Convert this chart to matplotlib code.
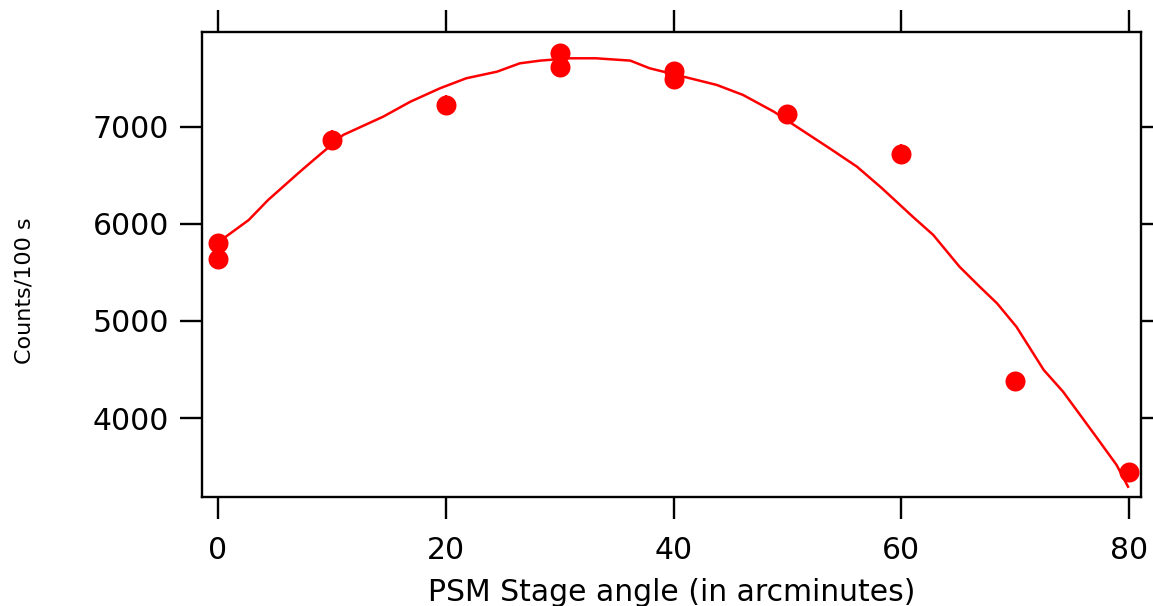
import matplotlib
matplotlib.use("Agg")
import matplotlib.pyplot as plt

# Measured data points
angle = [0, 0, 10, 20, 30, 30, 40, 40, 50, 60, 70, 80]
counts = [5801, 5636, 6866, 7227, 7760, 7616, 7574, 7492, 7131, 6721, 4385, 3440]
errors = [100, 100, 100, 100, 100, 100, 100, 100, 100, 100, 0, 0]

# Fit curve
fit_x = [0.0, 1.5, 2.7, 4.4, 7.2, 8.4, 11.0, 14.5, 16.9, 19.5, 21.8, 24.5,
         26.5, 28.3, 30.9, 33.2, 36.2, 37.9, 41.1, 43.8, 46.1, 48.8, 50.8,
         53.7, 56.1, 58.3, 61.0, 62.8, 65.1, 66.9, 68.4, 70.1, 72.5, 74.2,
         77.1, 78.9, 79.9]
fit_y = [5810, 5938, 6041, 6247, 6539, 6660, 6918, 7106, 7261, 7399, 7502, 7570,
         7656, 7684, 7708, 7708, 7684, 7605, 7512, 7433, 7330, 7158, 7003,
         6780, 6591, 6368, 6075, 5887, 5560, 5351, 5182, 4941, 4495, 4271,
         3807, 3515, 3292]

x_ticks = [0, 20, 40, 60, 80]
y_ticks = [4000, 5000, 6000, 7000]

plt.rcParams['font.family'] = ['DejaVu Sans']

fig = plt.figure(figsize=(11.53, 6.06), dpi=100)
ax = fig.add_axes([0.1752, 0.1799, 0.9896 - 0.1752, 0.9472 - 0.1799])

ax.plot(fit_x, fit_y, color='#ff0000', lw=1.8, zorder=2)
ax.errorbar(angle, counts, yerr=errors, fmt='o', color='#ff0000',
            markersize=14.4, markeredgewidth=0, capsize=7.0, capthick=2.0,
            elinewidth=1.6, zorder=3)

ax.set_xlim(-1.4, 81.04)
ax.set_ylim(3186, 7979)
ax.set_xticks(x_ticks)
ax.set_yticks(y_ticks)

for s in ax.spines.values():
    s.set_linewidth(1.7)
    s.set_color('black')

ax.tick_params(axis='both', which='major', direction='out', length=15.8, width=1.7,
               labelsize=21.5, color='black')
ax.tick_params(axis='x', top=True, labeltop=False, pad=12)
ax.tick_params(axis='y', right=True, labelright=False, pad=8)

ax.set_xlabel('PSM Stage angle (in arcminutes)', fontsize=21.5, labelpad=10)
fig.text(25 / 1153, 1 - 291 / 606, 'Counts/100 s', rotation=90,
         ha='center', va='center', fontsize=16)

fig.savefig('out.png', dpi=100)
